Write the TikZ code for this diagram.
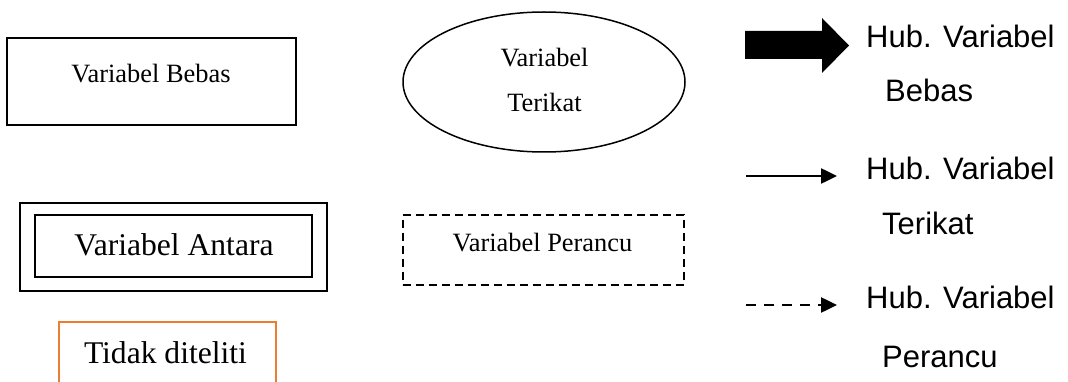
\documentclass[tikz,border=0pt]{standalone}
\usepackage{fontspec}
\setmainfont{Liberation Serif}
\newfontfamily\legendfont{Liberation Sans}
\usetikzlibrary{arrows.meta,shapes.geometric}
\definecolor{accentorange}{HTML}{ED7D31}
\tikzset{
  box/.style={draw, line width=1.5pt, minimum width=#1, inner sep=0pt},
  boxlabel/.style={anchor=base, inner sep=0pt, font=\fontsize{26.4}{30}\selectfont},
  biglabel/.style={anchor=base, inner sep=0pt, font=\fontsize{31.6}{36}\selectfont},
  legendlabel/.style={anchor=base west, inner sep=0pt, font=\legendfont\fontsize{31}{36}\selectfont},
  legendline/.style={line width=2.5pt, -{Triangle[length=16pt,width=15pt]}},
}
\begin{document}
\begin{tikzpicture}[x=1pt,y=-1pt]
\useasboundingbox (0,0) rectangle (1068,382);
\clip (0,0) rectangle (1068,382);

% independent variable
\node[box=289pt, minimum height=87pt] (bebas) at (151.5,81.5) {};
\node[boxlabel] (bebasText) at (151,83) {Variabel Bebas};

% dependent variable
\node[draw, line width=1.5pt, ellipse, minimum width=282pt, minimum height=140pt, inner sep=0pt] (terikat) at (544,82) {};
\node[boxlabel] (terikatA) at (544.5,66.7) {Variabel};
\node[boxlabel] (terikatB) at (544.5,112) {Terikat};

% intervening variable (double frame)
\node[box=307pt, minimum height=88pt] (antaraOuter) at (173.5,247) {};
\node[box=277pt, minimum height=62pt] (antaraInner) at (173.5,246) {};
\node[biglabel] (antaraText) at (174,255) {Variabel Antara};

% confounding variable
\node[box=281pt, minimum height=70pt, line width=2pt, dash pattern=on 8pt off 5pt] (perancu) at (543,250) {};
\node[boxlabel] (perancuText) at (542.5,251.7) {Variabel Perancu};

% not examined
\node[draw=accentorange, line width=2pt, minimum width=217pt, minimum height=70pt, inner sep=0pt] (tidak) at (167.5,357) {};
\node[biglabel] (tidakText) at (165.5,363) {Tidak diteliti};

% legend: thick arrow
\fill (745,31) -- (822,31) -- (822,18) -- (849,45.5) -- (822,73) -- (822,59) -- (745,59) -- cycle;
\node[legendlabel] (hubA) at (866,48) {Hub. Variabel};
\node[legendlabel] (hubAb) at (885,102) {Bebas};

% legend: solid arrow
\coordinate (solidFrom) at (746,176);
\coordinate (solidTo) at (837,176);
\draw[legendline] (solidFrom) -- (solidTo);
\node[legendlabel] (hubB) at (866,180) {Hub. Variabel};
\node[legendlabel] (hubBb) at (882,235) {Terikat};

% legend: dashed arrow
\coordinate (dashFrom) at (746,305);
\coordinate (dashTo) at (837,305);
\draw[legendline, dash pattern=on 10pt off 8pt] (dashFrom) -- (dashTo);
\node[legendlabel] (hubC) at (866,308) {Hub. Variabel};
\node[legendlabel] (hubCb) at (882,367) {Perancu};
\end{tikzpicture}
\end{document}
